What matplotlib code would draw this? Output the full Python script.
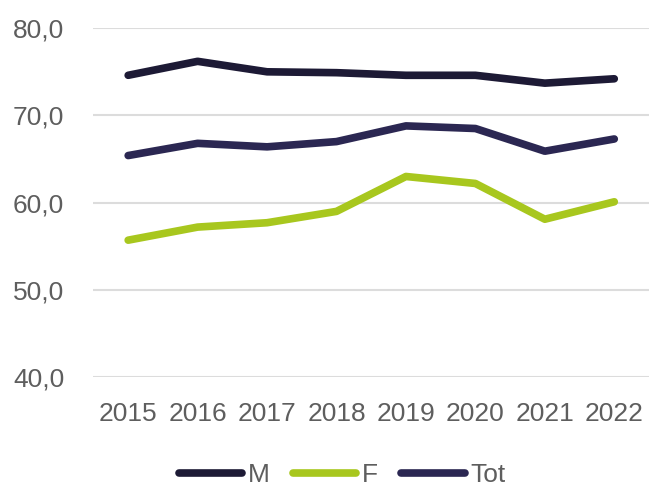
import matplotlib.pyplot as plt
from matplotlib.ticker import FuncFormatter

anni = ["2015", "2016", "2017", "2018", "2019", "2020", "2021", "2022"]
maschi = [74.6, 76.2, 75.0, 74.9, 74.6, 74.6, 73.7, 74.2]
femmine = [55.7, 57.2, 57.7, 59.0, 63.0, 62.2, 58.1, 60.1]
totale = [65.4, 66.8, 66.4, 67.0, 68.8, 68.5, 65.9, 67.3]

COLORI = {"M": "#1d1a35", "F": "#a8c71e", "Tot": "#2b2752"}
GRIGIO = "#5e5e5e"

plt.rcParams["font.family"] = ["Liberation Sans", "DejaVu Sans"]

fig = plt.figure(figsize=(6.49, 4.86), dpi=100)
ax = fig.add_axes([0.144, 0.224, 0.856, 0.718])

x = range(len(anni))
stile = dict(lw=5.5, solid_capstyle="round", solid_joinstyle="round", clip_on=False)
ax.plot(x, maschi, color=COLORI["M"], label="M", **stile)
ax.plot(x, femmine, color=COLORI["F"], label="F", **stile)
ax.plot(x, totale, color=COLORI["Tot"], label="Tot", **stile)

ax.set_xlim(-0.5, len(anni) - 0.5)
ax.set_ylim(40, 80)
ax.set_yticks([40, 50, 60, 70, 80])
ax.yaxis.set_major_formatter(FuncFormatter(lambda v, p: f"{v:.1f}".replace(".", ",")))
ax.set_xticks(list(x))
ax.set_xticklabels(anni)

ax.grid(axis="y", color="#dcdcdc", lw=1.5)
ax.set_axisbelow(True)
for s in ax.spines.values():
    s.set_visible(False)
ax.tick_params(length=0, labelsize=19, labelcolor=GRIGIO)
ax.tick_params(axis="y", pad=21)
ax.tick_params(axis="x", pad=18)

fig.legend(loc="center", bbox_to_anchor=(0.527, 0.022), ncol=3, frameon=False,
           fontsize=19, handlelength=2.4, handletextpad=0.2, columnspacing=0.9,
           labelcolor=GRIGIO)

fig.savefig("out.png", dpi=100)
